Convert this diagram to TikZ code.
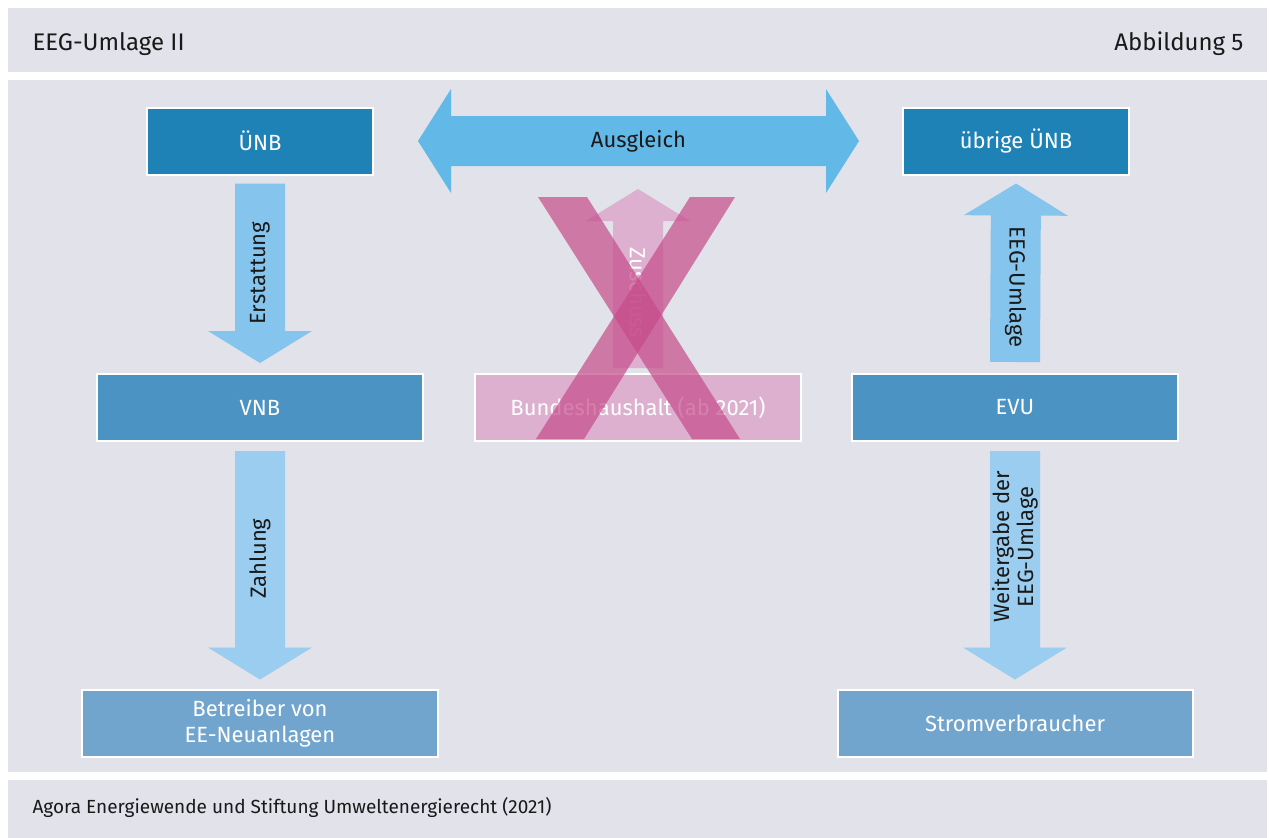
\documentclass[tikz,border=0pt]{standalone}
\usepackage{fontspec}
\setmainfont{Fira Sans}
\usetikzlibrary{calc,positioning}

\definecolor{panelgray}{HTML}{E1E2EA}
\definecolor{uenbblue}{HTML}{1F82B6}
\definecolor{vnbblue}{HTML}{4B93C3}
\definecolor{lowblue}{HTML}{72A5CD}
\definecolor{ausgleichblue}{HTML}{62B8E6}
\definecolor{flowblue}{HTML}{85C4EC}
\definecolor{paleflow}{HTML}{9ACDEF}
\definecolor{fadedpink}{HTML}{DDB0CF}
\definecolor{crosspink}{HTML}{C64B8A}

\tikzset{
  box/.style={draw=white, line width=2pt, text=white, minimum height=67pt,
    align=center, font=\fontsize{22}{26}\selectfont},
  flowlabel/.style={font=\fontsize{22}{24}\selectfont, text=black!90, align=center},
  headtext/.style={font=\fontsize{24}{28}\selectfont, text=black!90},
}

% block arrow from #1 to tip #2
\newcommand{\flow}[3]{%
  \coordinate (fb) at ($(#2)!32pt!(#1)$);
  \fill[#3] ($(#1)!25pt!90:(#2)$) -- ($(fb)!25pt!-90:(#1)$) -- ($(fb)!52pt!-90:(#1)$)
    -- (#2) -- ($(fb)!52pt!90:(#1)$) -- ($(fb)!25pt!90:(#1)$) -- ($(#1)!25pt!-90:(#2)$) -- cycle;
}
% block arrow with two tips
\newcommand{\twoflow}[3]{%
  \coordinate (fa) at ($(#1)!33pt!(#2)$);
  \coordinate (fb) at ($(#2)!33pt!(#1)$);
  \fill[#3] (#1) -- ($(fa)!52pt!90:(#2)$) -- ($(fa)!25pt!90:(#2)$) -- ($(fb)!25pt!-90:(#1)$)
    -- ($(fb)!52pt!-90:(#1)$) -- (#2) -- ($(fb)!52pt!90:(#1)$) -- ($(fb)!25pt!90:(#1)$)
    -- ($(fa)!25pt!-90:(#2)$) -- ($(fa)!52pt!-90:(#2)$) -- cycle;
}

\begin{document}
\begin{tikzpicture}[x=1pt,y=-1pt]
\useasboundingbox (0,0) rectangle (1270,838);
\fill[white] (0,0) rectangle (1270,838);

% panels
\fill[panelgray] (8,8) rectangle (1267,72);
\fill[panelgray] (8,80) rectangle (1267,772);
\fill[panelgray] (8,780) rectangle (1267,838);
\node[headtext, anchor=west] (title) at (29,44) {EEG-Umlage II};
\node[headtext, anchor=east] (fig) at (1247,44) {Abbildung 5};
\node[font=\fontsize{19}{22}\selectfont, text=black!90, anchor=west] (source) at (29,807)
  {Agora Energiewende und Stiftung Umweltenergierecht (2021)};

% boxes
\node[box, fill=uenbblue, minimum width=226pt] (uenb) at (260,141) {ÜNB};
\node[box, fill=uenbblue, minimum width=226pt] (uebrig) at (1016,141) {übrige ÜNB};
\node[box, fill=vnbblue, minimum width=326pt] (vnb) at (260,407.5) {VNB};
\node[box, fill=vnbblue, minimum width=326pt] (evu) at (1015,407.5) {EVU};
\node[box, fill=lowblue, minimum width=356pt] (betreiber) at (260,723) {Betreiber von\\EE-Neuanlagen};
\node[box, fill=lowblue, minimum width=355pt] (strom) at (1015,723) {Stromverbraucher};

% Ausgleich
\coordinate (aus-l) at ([xshift=44pt]uenb.east);
\coordinate (aus-r) at ([xshift=-43pt]uebrig.west);
\twoflow{aus-l}{aus-r}{ausgleichblue}
\node[flowlabel] (aus) at ($(aus-l)!0.5!(aus-r)$) {Ausgleich};

% left column
\coordinate (er-s) at ([yshift=-8pt]uenb.south);
\coordinate (er-t) at ([yshift=10pt]vnb.north);
\flow{er-s}{er-t}{flowblue}
\node[flowlabel, rotate=90] (er) at ($(er-s)!0.5!(er-t)$) {Erstattung};

\coordinate (za-s) at ([yshift=-9pt]vnb.south);
\coordinate (za-t) at ([yshift=9pt]betreiber.north);
\flow{za-s}{za-t}{paleflow}
\node[flowlabel, rotate=90] (za) at ($(za-s)!0.47!(za-t)$) {Zahlung};

% right column
\coordinate (eeg-s) at ([yshift=11pt]evu.north);
\coordinate (eeg-t) at ([yshift=-8pt]uebrig.south);
\flow{eeg-s}{eeg-t}{flowblue}
\node[flowlabel, rotate=-90] (eeg) at ($(eeg-s)!0.42!(eeg-t)$) {EEG-Umlage};

\coordinate (wg-s) at ([yshift=-9pt]evu.south);
\coordinate (wg-t) at ([yshift=9pt]strom.north);
\flow{wg-s}{wg-t}{paleflow}
\node[flowlabel, rotate=90] (wg) at ($(wg-s)!0.42!(wg-t)$) {Weitergabe der\\EEG-Umlage};

% Bundeshaushalt, crossed out
\node[box, fill=fadedpink, minimum width=326pt] (bund) at (638,407.5) {Bundeshaushalt (ab 2021)};
\coordinate (zs-s) at ([yshift=5pt]bund.north);
\coordinate (zs-t) at (638,189);
\flow{zs-s}{zs-t}{fadedpink}
\node[flowlabel, rotate=-90, text=white] (zs) at ($(zs-s)!0.42!(zs-t)$) {Zuschuss};

\fill[crosspink, opacity=0.7] (538,197) -- (587,197) -- (740,439) -- (692,439) -- cycle;
\fill[crosspink, opacity=0.7] (690,197) -- (735,197) -- (584,439) -- (536,439) -- cycle;
\end{tikzpicture}
\end{document}
